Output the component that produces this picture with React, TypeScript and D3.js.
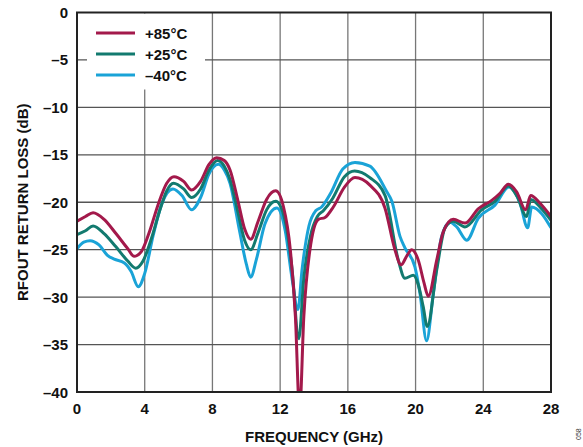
import React from "react";
import * as d3 from "d3";

const xTicks = [0, 4, 8, 12, 16, 20, 24, 28];
const yTicks = [0, -5, -10, -15, -20, -25, -30, -35, -40];
const yTickLabels = ["0", "–5", "–10", "–15", "–20", "–25", "–30", "–35", "–40"];

const seriesNames = ["+85°C", "+25°C", "–40°C"];
const seriesColors = ["#A3194B", "#127A6F", "#1AA3D7"];

const freq85 = [0, 0.5, 0.95, 1.6, 2.3, 3.0, 3.37, 3.8, 4.3, 4.8, 5.3, 5.73, 6.3, 6.77, 7.3, 7.8, 8.25, 8.7, 9.04, 9.5, 9.9, 10.26, 10.7, 11.2, 11.74, 12.2, 12.6, 12.9, 13.15, 13.4, 13.76, 14.26, 14.65, 15.14, 15.8, 16.42, 17.3, 18.19, 18.78, 19.14, 19.5, 19.77, 20.16, 20.5, 20.75, 21.25, 21.64, 22.23, 22.92, 23.7, 24.5, 24.99, 25.48, 25.97, 26.5, 26.8, 27.35, 28];
const rl85 = [-22.0, -21.5, -21.1, -21.8, -23.3, -24.9, -25.7, -25.2, -23.0, -20.2, -18.0, -17.3, -17.8, -18.7, -17.8, -16.0, -15.3, -15.6, -16.6, -19.8, -22.8, -23.9, -22.0, -19.7, -18.8, -20.5, -25.0, -32.0, -42.0, -32.0, -25.0, -21.8, -21.6, -20.5, -18.4, -17.4, -18.2, -20.6, -25.0, -26.6, -25.6, -25.0, -26.1, -28.5, -29.9, -26.1, -23.1, -21.8, -22.2, -20.7, -19.8, -19.05, -18.1, -18.9, -20.8, -19.3, -20.1, -21.5];

const freq25 = [0, 0.5, 0.95, 1.6, 2.3, 3.0, 3.47, 3.9, 4.4, 4.9, 5.3, 5.7, 6.3, 6.77, 7.3, 7.8, 8.3, 8.7, 9.04, 9.5, 9.9, 10.26, 10.7, 11.2, 11.74, 12.3, 12.7, 13.1, 13.4, 13.8, 14.2, 14.55, 15.1, 15.8, 16.4, 17.3, 18.2, 18.98, 19.37, 19.87, 20.16, 20.45, 20.69, 21.25, 21.74, 22.23, 22.92, 23.9, 24.69, 25.48, 26.0, 26.56, 26.8, 27.4, 28];
const rl25 = [-23.4, -23.0, -22.5, -23.3, -24.7, -26.2, -26.95, -26.2, -23.8, -20.8, -18.8, -18.0, -18.6, -19.5, -18.6, -16.6, -15.6, -16.2, -17.6, -21.0, -24.0, -25.0, -23.2, -20.8, -19.9, -22.0, -27.0, -34.4, -28.0, -23.5, -21.5, -20.9, -19.6, -17.3, -16.7, -17.4, -19.3, -26.1, -28.0, -27.7, -28.7, -31.0, -33.1, -27.1, -22.7, -22.0, -22.6, -20.8, -19.9, -18.3, -19.4, -21.5, -19.7, -20.6, -21.9];

const freq40 = [0, 0.4, 0.77, 1.3, 1.8, 2.2, 2.8, 3.2, 3.62, 4.0, 4.5, 5.0, 5.67, 6.2, 6.77, 7.3, 7.8, 8.35, 8.7, 9.04, 9.6, 10.0, 10.26, 10.6, 11.1, 11.8, 12.3, 12.7, 13.05, 13.3, 13.7, 14.1, 14.45, 15.0, 15.7, 16.42, 17.3, 18.3, 18.6, 19.08, 19.37, 19.96, 20.26, 20.65, 21.05, 21.54, 22.03, 22.43, 23.02, 23.7, 24.69, 25.52, 26.17, 26.62, 26.86, 27.45, 28];
const rl40 = [-24.9, -24.2, -24.05, -24.5, -25.6, -26.0, -26.4, -27.3, -28.9, -27.5, -23.5, -20.2, -18.6, -19.3, -20.8, -19.5, -17.0, -16.0, -16.6, -18.0, -23.0, -26.5, -27.9, -26.0, -22.3, -20.6, -23.0, -28.0, -31.3, -27.0, -22.5, -20.9, -20.5, -19.0, -16.5, -15.8, -16.2, -18.9, -19.9, -23.6, -24.8, -26.8, -29.6, -34.6, -29.6, -23.6, -22.1, -22.6, -24.0, -21.7, -20.3, -18.4, -20.1, -22.7, -20.5, -21.2, -22.7];

const seriesFreq = [freq85, freq25, freq40];
const seriesRL = [rl85, rl25, rl40];

export default function App() {
  const W = 583, H = 447;
  const left = 77, right = 551, top = 12.5, bottom = 392;
  const x = d3.scaleLinear().domain([0, 28]).range([left, right]);
  const y = d3.scaleLinear().domain([0, -40]).range([top, bottom]);
  const font = "'Liberation Sans', Arial, sans-serif";
  const fs = 15;

  const line = d3
    .line<[number, number]>()
    .x((d) => x(d[0]))
    .y((d) => y(d[1]))
    .curve(d3.curveMonotoneX);

  const order = [2, 1, 0];

  return (
    <svg width={W} height={H} style={{ position: "absolute", left: 0, top: 0 }}>
      <defs>
        <clipPath id="plotClip">
          <rect x={left} y={top} width={right - left} height={bottom - top} />
        </clipPath>
      </defs>
      <rect x={0} y={0} width={W} height={H} fill="#fff" />
      {xTicks.slice(1, -1).map((t) => (
        <line key={"gx" + t} x1={x(t)} x2={x(t)} y1={top} y2={bottom} stroke="#777" strokeWidth={1.3} />
      ))}
      {yTicks.slice(1, -1).map((t) => (
        <line key={"gy" + t} x1={left} x2={right} y1={y(t)} y2={y(t)} stroke="#555" strokeWidth={1.3} />
      ))}
      <rect x={87} y={top + 1} width={118} height={76} fill="#fff" />
      <g clipPath="url(#plotClip)">
        {order.map((i) => {
          const pts: [number, number][] = seriesFreq[i].map((f, k) => [f, seriesRL[i][k]]);
          return (
            <path
              key={seriesNames[i]}
              d={line(pts) || ""}
              fill="none"
              stroke={seriesColors[i]}
              strokeWidth={3}
              strokeLinejoin="round"
            />
          );
        })}
      </g>
      <rect x={left} y={top} width={right - left} height={bottom - top} fill="none" stroke="#222" strokeWidth={2} />
      {seriesNames.map((n, i) => (
        <g key={"lg" + n}>
          <line x1={96} x2={135} y1={33 + i * 21} y2={33 + i * 21} stroke={seriesColors[i]} strokeWidth={3} />
          <text x={145} y={33 + i * 21 + 5.5} fontFamily={font} fontWeight="bold" fontSize={fs} fill="#111">
            {n}
          </text>
        </g>
      ))}
      {yTicks.map((t, i) => (
        <text key={"yt" + t} x={68} y={y(t) + 5.5} textAnchor="end" fontFamily={font} fontWeight="bold" fontSize={fs} fill="#111">
          {yTickLabels[i]}
        </text>
      ))}
      {xTicks.map((t) => (
        <text key={"xt" + t} x={x(t)} y={414} textAnchor="middle" fontFamily={font} fontWeight="bold" fontSize={fs} fill="#111">
          {t}
        </text>
      ))}
      <text x={(left + right) / 2} y={442} textAnchor="middle" fontFamily={font} fontWeight="bold" fontSize={fs} fill="#111">
        FREQUENCY (GHz)
      </text>
      <text
        transform={`translate(28, ${(top + bottom) / 2}) rotate(-90)`}
        textAnchor="middle"
        fontFamily={font}
        fontWeight="bold"
        fontSize={fs}
        fill="#111"
      >
        RFOUT RETURN LOSS (dB)
      </text>
      <text transform="translate(581, 440) rotate(-90)" fontFamily={font} fontSize={7} fill="#333">
        058
      </text>
    </svg>
  );
}
